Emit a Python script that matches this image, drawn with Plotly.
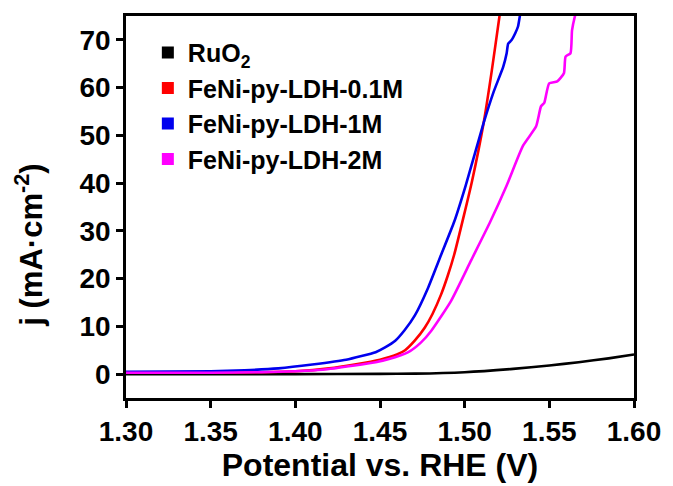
import plotly.graph_objects as go

# Linear sweep voltammetry (OER polarization) curves
series_names = ["RuO<sub>2</sub>", "FeNi-py-LDH-0.1M", "FeNi-py-LDH-1M", "FeNi-py-LDH-2M"]
series_colors = ["#000000", "#ff0000", "#0000ee", "#ff00ff"]

ruo2_potential = [1.30, 1.35, 1.40, 1.45, 1.4706, 1.50, 1.5286, 1.55, 1.5673, 1.585, 1.60]
ruo2_current = [0.0, 0.0, 0.0, 0.05, 0.1, 0.4, 1.1, 1.8, 2.5, 3.3, 4.1]

ldh01_potential = [1.30, 1.35, 1.38, 1.40, 1.42, 1.435, 1.45, 1.46, 1.4648, 1.4705, 1.4764,
                   1.481, 1.4861, 1.490, 1.4938, 1.4996, 1.5044, 1.5112, 1.516, 1.5205, 1.521]
ldh01_current = [0.3, 0.3, 0.4, 0.6, 1.2, 2.0, 3.0, 4.1, 5.0, 7.0, 9.7,
                 12.6, 16.7, 20.6, 25.0, 33.3, 40.5, 52.6, 63.5, 74.8, 76.0]

ldh1_potential = [1.30, 1.35, 1.37, 1.39, 1.41, 1.43, 1.4474, 1.453, 1.459, 1.4645, 1.4706,
                  1.4783, 1.4861, 1.4938, 1.5006, 1.5112, 1.517, 1.5228, 1.5248, 1.5257,
                  1.5276, 1.530, 1.5315, 1.5325, 1.533]
ldh1_current = [0.5, 0.6, 0.8, 1.2, 2.0, 3.0, 4.6, 5.6, 7.0, 9.2, 12.3,
                18.0, 25.0, 31.9, 39.5, 52.6, 59.0, 64.4, 67.2, 69.2,
                69.9, 71.5, 72.8, 74.8, 76.0]

ldh2_potential = [1.30, 1.35, 1.38, 1.40, 1.416, 1.435, 1.4474, 1.4548, 1.4667, 1.4741, 1.4803,
                  1.4919, 1.5035, 1.5151, 1.5248, 1.5344, 1.5422, 1.5451, 1.5470, 1.5499,
                  1.5547, 1.5586, 1.5596, 1.5625, 1.5634, 1.5650, 1.566]
ldh2_current = [0.3, 0.3, 0.4, 0.6, 0.9, 1.8, 2.5, 3.1, 4.6, 6.6, 9.1,
                15.3, 23.6, 31.9, 39.5, 47.8, 51.9, 56.1, 56.8, 60.9,
                61.3, 63.0, 66.5, 67.2, 72.0, 74.8, 76.0]

x_ticks = [1.30, 1.35, 1.40, 1.45, 1.50, 1.55, 1.60]
y_ticks = [0, 10, 20, 30, 40, 50, 60, 70]

curves = [
    (ruo2_potential, ruo2_current),
    (ldh01_potential, ldh01_current),
    (ldh1_potential, ldh1_current),
    (ldh2_potential, ldh2_current),
]

font_family = "Arial, Liberation Sans, sans-serif"

fig = go.Figure()

for (xs, ys), color in zip(curves, series_colors):
    fig.add_trace(go.Scatter(
        x=xs, y=ys, mode="lines", showlegend=False,
        line=dict(color=color, width=2.6, shape="spline", smoothing=0.5),
    ))

# Square legend swatches
for name, color in zip(series_names, series_colors):
    fig.add_trace(go.Scatter(
        x=[None], y=[None], mode="markers", name=name,
        marker=dict(symbol="square", size=12, color=color),
    ))

axis_common = dict(
    showline=True, linecolor="black", linewidth=2.5, mirror=True,
    ticks="outside", ticklen=7, tickwidth=2.5, tickcolor="black",
    showgrid=False, zeroline=False,
    tickfont=dict(family=font_family, size=28, color="black", weight="bold"),
)

fig.update_layout(
    width=673, height=486,
    margin=dict(l=126, r=30, t=16, b=86),
    paper_bgcolor="white", plot_bgcolor="white",
    xaxis=dict(
        range=[1.30, 1.60], tickvals=x_ticks,
        ticktext=[f"{v:.2f}" for v in x_ticks],
        title=dict(text="Potential vs. RHE (V)", standoff=4,
                   font=dict(family=font_family, size=32, color="black", weight="bold")),
        **axis_common,
    ),
    yaxis=dict(range=[-5, 75], tickvals=y_ticks, **axis_common),
    legend=dict(
        x=0.043, y=0.964, xanchor="left", yanchor="top",
        bgcolor="rgba(0,0,0,0)", borderwidth=0,
        font=dict(family=font_family, size=25, color="black", weight="bold"),
        itemsizing="constant",
    ),
    annotations=[dict(
        text="j (mA·cm<sup>-2</sup>)", textangle=-90,
        xref="paper", yref="paper", x=-0.19, y=0.40,
        xanchor="center", yanchor="middle", showarrow=False,
        font=dict(family=font_family, size=31, color="black", weight="bold"),
    )],
)

fig.write_html("out.html")
